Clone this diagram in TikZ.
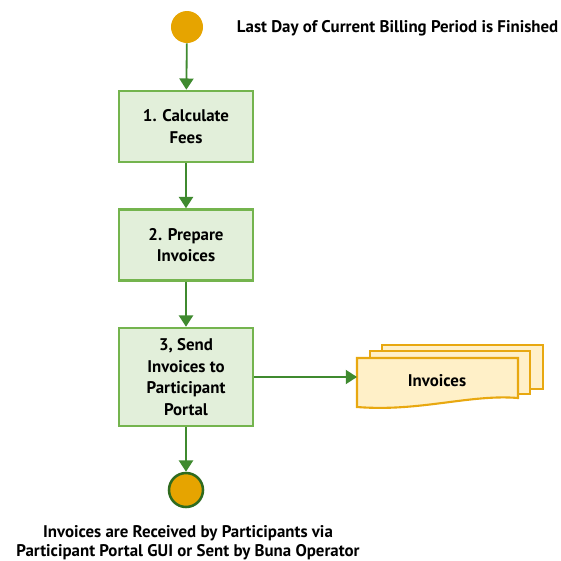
\documentclass[tikz,border=0pt]{standalone}
\usepackage{fontspec}
\setmainfont{PT Sans}
\usetikzlibrary{arrows.meta}
\definecolor{stepfill}{HTML}{E2EFDA}
\definecolor{stepline}{HTML}{74B44E}
\definecolor{flowgreen}{HTML}{3F8A2F}
\definecolor{darkring}{HTML}{2F6B1F}
\definecolor{eventorange}{HTML}{E6A400}
\definecolor{docfill}{HTML}{FFF0C8}
\definecolor{docline}{HTML}{E8A810}
\begin{document}
\begin{tikzpicture}[
    x=0.025cm, y=-0.025cm,
    font=\fontsize{12}{15.5}\selectfont\bfseries,
    stepbox/.style={rectangle, draw=stepline, fill=stepfill, line width=1.8pt, minimum width=3.35cm, align=center},
    flow/.style={-{Triangle[length=8pt,width=10pt]}, flowgreen, line width=1.3pt},
    docsheet/.style={draw=docline, fill=docfill, line width=1.5pt},
]
\useasboundingbox (0,0) rectangle (561,561);

% Start event
\node[circle, fill=eventorange, minimum size=0.8cm, inner sep=0pt] (start) at (187,27) {};
\node[anchor=west] (startlbl) at (232,28) {Last Day of Current Billing Period is Finished};

% Process steps
\node[stepbox, minimum height=1.775cm] (calc) at (186,126.5) {1. Calculate\\Fees};
\node[stepbox, minimum height=1.775cm] (prep) at (186,245) {2. Prepare\\Invoices};
\node[stepbox, minimum height=2.45cm] (send) at (186,377) {3, Send\\Invoices to\\Participant\\Portal};

% End event
\node[circle, draw=darkring, fill=eventorange, line width=1.8pt, minimum size=0.85cm, inner sep=0pt] (finish) at (186,490) {};
\node[align=center, font=\fontsize{12}{13.5}\selectfont\bfseries] (endlbl) at (188,543) {Invoices are Received by Participants via\\Participant Portal GUI or Sent by Buna Operator};

% Stacked invoice documents
\draw[docsheet] (382,345) rectangle (543,389);
\draw[docsheet] (370,351) rectangle (530,394);
\draw[docsheet] (357,358) -- (518,358) -- (518,398)
    .. controls (470,394) and (420,412) .. (357,407) -- cycle;
\node (docs) at (437,381) {Invoices};
\coordinate (docin) at (357,377);

% Connectors
\draw[flow] (start) -- (calc);
\draw[flow] (calc) -- (prep);
\draw[flow] (prep) -- (send);
\draw[flow] (send) -- (finish);
\draw[flow] (send.east) -- (docin);

\end{tikzpicture}
\end{document}
